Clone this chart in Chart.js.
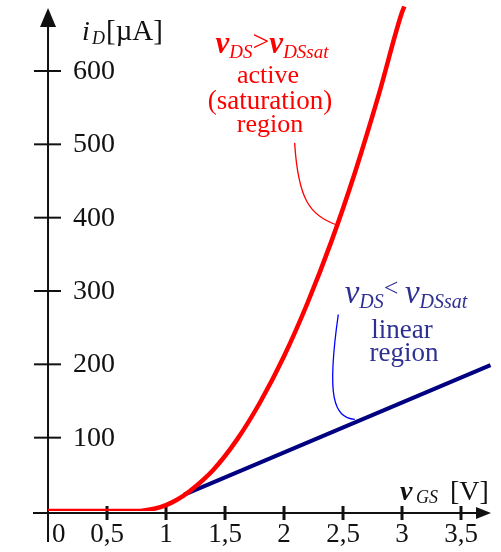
<!DOCTYPE html>
<html lang="en">
<head>
  <meta charset="UTF-8">
  <title>iD vs vGS</title>
  <script src="https://cdn.jsdelivr.net/npm/chart.js"></script>
  <style>
    body { margin: 0; background: #fff; }
    #wrap { width: 501px; height: 552px; }
  </style>
</head>
<body>
  <div id="wrap"><canvas id="idChart"></canvas></div>
  <script>
    // values (vGS in V, iD in uA)
    const satV = [0, 0.5, 0.7, 0.8, 0.9, 1.0, 1.1, 1.2, 1.4, 1.6, 1.8, 2.0, 2.2, 2.4, 2.6, 2.8, 3.0, 3.02];
    const satI = [0, 0, 0, 0.5, 3, 8, 16, 27, 56, 97, 149, 211, 284, 367, 461, 566, 680, 688];
    const linV = [1.15, 3.75];
    const linI = [22, 199];
    const xTicks = [0.5, 1, 1.5, 2, 2.5, 3, 3.5];
    const xTickLabels = ['0,5', '1', '1,5', '2', '2,5', '3', '3,5'];
    const yTicks = [100, 200, 300, 400, 500, 600];

    const SERIF = '"Liberation Serif", "DejaVu Serif", serif';
    const RED = '#ff0000';
    const NAVY = '#000080';
    const TXTBLUE = '#2e3192';

    function pts(xs, ys) {
      return xs.map((x, i) => ({ x: x, y: ys[i] }));
    }

    // draw a line of text made of runs: [text, font, dy]
    function runs(ctx, parts, cx, y, color) {
      ctx.fillStyle = color;
      ctx.textBaseline = 'alphabetic';
      ctx.textAlign = 'left';
      let w = 0;
      parts.forEach(p => { ctx.font = p[1]; w += ctx.measureText(p[0]).width; });
      let x = cx - w / 2;
      parts.forEach(p => {
        ctx.font = p[1];
        ctx.fillText(p[0], x, y + (p[2] || 0));
        x += ctx.measureText(p[0]).width;
      });
    }

    const axesPlugin = {
      id: 'axes',
      beforeDatasetsDraw(chart) {
        const ctx = chart.ctx;
        const xs = chart.scales.x, ys = chart.scales.y;
        const x0 = xs.getPixelForValue(0);
        const y0 = ys.getPixelForValue(0) + 2;
        ctx.save();
        ctx.strokeStyle = '#111';
        ctx.fillStyle = '#111';
        ctx.lineWidth = 2;
        // y axis
        ctx.beginPath();
        ctx.moveTo(x0, 542);
        ctx.lineTo(x0, 24);
        ctx.stroke();
        ctx.beginPath();
        ctx.moveTo(x0, 8);
        ctx.lineTo(x0 - 8, 27);
        ctx.lineTo(x0 + 8, 27);
        ctx.closePath();
        ctx.fill();
        // x axis
        ctx.beginPath();
        ctx.moveTo(33, y0);
        ctx.lineTo(478, y0);
        ctx.stroke();
        ctx.beginPath();
        ctx.moveTo(491, y0);
        ctx.lineTo(476, y0 - 6);
        ctx.lineTo(476, y0 + 6);
        ctx.closePath();
        ctx.fill();
        // x ticks
        ctx.lineWidth = 3;
        ctx.font = '27px ' + SERIF;
        ctx.textAlign = 'center';
        ctx.textBaseline = 'alphabetic';
        xTicks.forEach((v, i) => {
          const px = xs.getPixelForValue(v);
          ctx.beginPath();
          ctx.moveTo(px, y0 - 7);
          ctx.lineTo(px, y0 + 7);
          ctx.stroke();
          ctx.fillText(xTickLabels[i], px, 542);
        });
        ctx.textAlign = 'left';
        ctx.fillText('0', x0 + 4, 542);
        // y ticks
        ctx.lineWidth = 2;
        ctx.font = '28px ' + SERIF;
        yTicks.forEach(v => {
          const py = ys.getPixelForValue(v);
          ctx.beginPath();
          ctx.moveTo(x0 - 14, py);
          ctx.lineTo(x0 + 13, py);
          ctx.stroke();
          ctx.fillText(String(v), 73, py + 8);
        });
        // axis titles
        ctx.font = 'italic 28px ' + SERIF;
        ctx.fillText('i', 82, 40);
        ctx.font = 'italic 18px ' + SERIF;
        ctx.fillText('D', 92, 44);
        ctx.font = '29px ' + SERIF;
        ctx.fillText('[\u00b5A]', 106, 40);
        ctx.font = 'bold italic 28px ' + SERIF;
        ctx.fillText('v', 400, 500);
        ctx.font = 'italic 18px ' + SERIF;
        ctx.fillText('GS', 416, 503);
        ctx.font = '28px ' + SERIF;
        ctx.fillText('[V]', 450, 500);
        ctx.restore();
      },
      afterDatasetsDraw(chart) {
        const ctx = chart.ctx;
        const xs = chart.scales.x, ys = chart.scales.y;
        const P = (v, i) => [xs.getPixelForValue(v), ys.getPixelForValue(i)];
        ctx.save();
        // leader lines
        ctx.lineWidth = 1.3;
        ctx.strokeStyle = RED;
        let a = P(2.09, 502), b = P(2.12, 425), c = P(2.22, 402), d = P(2.45, 390);
        ctx.beginPath();
        ctx.moveTo(a[0], a[1]);
        ctx.bezierCurveTo(b[0], b[1], c[0], c[1], d[0], d[1]);
        ctx.stroke();
        ctx.strokeStyle = '#0000ff';
        a = P(2.46, 268); b = P(2.36, 155); c = P(2.42, 128); d = P(2.6, 125);
        ctx.beginPath();
        ctx.moveTo(a[0], a[1]);
        ctx.bezierCurveTo(b[0], b[1], c[0], c[1], d[0], d[1]);
        ctx.stroke();
        // red notes
        runs(ctx, [
          ['v', 'bold italic 31px ' + SERIF, 0],
          ['DS', 'italic 19px ' + SERIF, 5],
          ['>', '30px ' + SERIF, -2],
          ['v', 'bold italic 31px ' + SERIF, 0],
          ['DSsat', 'italic 19px ' + SERIF, 5]
        ], 272, 53, RED);
        runs(ctx, [['active', '26px ' + SERIF, 0]], 268, 83, RED);
        runs(ctx, [['(saturation)', '27px ' + SERIF, 0]], 270, 109, RED);
        runs(ctx, [['region', '26px ' + SERIF, 0]], 270, 132, RED);
        // blue notes
        runs(ctx, [
          ['v', 'italic 33px ' + SERIF, 0],
          ['DS', 'italic 20px ' + SERIF, 5],
          ['< ', '26px ' + SERIF, -7],
          ['v', 'italic 33px ' + SERIF, 0],
          ['DSsat', 'italic 20px ' + SERIF, 5]
        ], 406, 303, TXTBLUE);
        runs(ctx, [['linear', '27px ' + SERIF, 0]], 402, 338, TXTBLUE);
        runs(ctx, [['region', '27px ' + SERIF, 0]], 404, 361, TXTBLUE);
        ctx.restore();
      }
    };

    new Chart(document.getElementById('idChart'), {
      type: 'line',
      data: {
        datasets: [{
          label: 'saturation',
          data: pts(satV, satI),
          borderColor: RED,
          borderWidth: 4.5,
          pointRadius: 0,
          cubicInterpolationMode: 'monotone',
          fill: false
        }, {
          label: 'linear',
          data: pts(linV, linI),
          borderColor: NAVY,
          borderWidth: 4,
          pointRadius: 0,
          fill: false
        }]
      },
      options: {
        responsive: true,
        maintainAspectRatio: false,
        animation: false,
        layout: { padding: { left: 0, right: 0, top: 5, bottom: 41 } },
        plugins: { legend: { display: false }, tooltip: { enabled: false } },
        scales: {
          x: { type: 'linear', min: -0.407, max: 3.839, display: false },
          y: { min: 0, max: 690, display: false }
        }
      },
      plugins: [axesPlugin]
    });
  </script>
</body>
</html>
